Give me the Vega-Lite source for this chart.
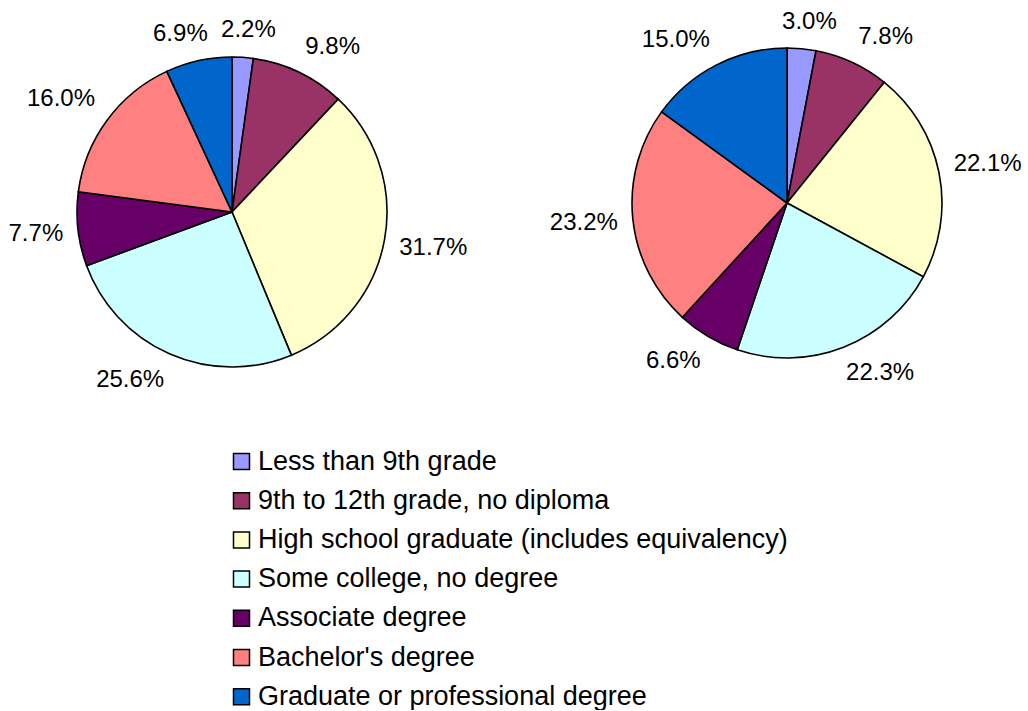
{
  "$schema": "https://vega.github.io/schema/vega-lite/v6.json",
  "padding": 0,
  "bounds": "flush",
  "background": "white",
  "datasets": {
    "edu": [
      {"panel": "A", "idx": 1, "category": "Less than 9th grade", "value": 2.2, "label": "2.2%"},
      {"panel": "A", "idx": 2, "category": "9th to 12th grade, no diploma", "value": 9.8, "label": "9.8%"},
      {"panel": "A", "idx": 3, "category": "High school graduate (includes equivalency)", "value": 31.7, "label": "31.7%"},
      {"panel": "A", "idx": 4, "category": "Some college, no degree", "value": 25.6, "label": "25.6%"},
      {"panel": "A", "idx": 5, "category": "Associate degree", "value": 7.7, "label": "7.7%"},
      {"panel": "A", "idx": 6, "category": "Bachelor's degree", "value": 16.0, "label": "16.0%"},
      {"panel": "A", "idx": 7, "category": "Graduate or professional degree", "value": 6.9, "label": "6.9%"},
      {"panel": "B", "idx": 1, "category": "Less than 9th grade", "value": 3.0, "label": "3.0%"},
      {"panel": "B", "idx": 2, "category": "9th to 12th grade, no diploma", "value": 7.8, "label": "7.8%"},
      {"panel": "B", "idx": 3, "category": "High school graduate (includes equivalency)", "value": 22.1, "label": "22.1%"},
      {"panel": "B", "idx": 4, "category": "Some college, no degree", "value": 22.3, "label": "22.3%"},
      {"panel": "B", "idx": 5, "category": "Associate degree", "value": 6.6, "label": "6.6%"},
      {"panel": "B", "idx": 6, "category": "Bachelor's degree", "value": 23.2, "label": "23.2%"},
      {"panel": "B", "idx": 7, "category": "Graduate or professional degree", "value": 15.0, "label": "15.0%"}
    ]
  },
  "data": {"name": "edu"},
  "config": {
    "view": {"stroke": null},
    "font": "Liberation Sans",
    "concat": {"spacing": 123}
  },
  "hconcat": [
    {
      "width": 464,
      "height": 424,
      "transform": [{"filter": "datum.panel === 'A'"}],
      "layer": [
        {
          "mark": {"type": "arc", "outerRadius": 155, "stroke": "black", "strokeWidth": 1.6},
          "encoding": {
            "theta": {"field": "value", "type": "quantitative", "stack": true},
            "order": {"field": "idx", "type": "quantitative"},
            "color": {
              "field": "category",
              "type": "nominal",
              "scale": {
                "domain": ["Less than 9th grade", "9th to 12th grade, no diploma", "High school graduate (includes equivalency)", "Some college, no degree", "Associate degree", "Bachelor's degree", "Graduate or professional degree"],
                "range": ["#9999FF", "#993366", "#FFFFCC", "#CCFFFF", "#660066", "#FF8080", "#0066CC"]
              },
              "legend": {
                "orient": "none",
                "legendX": 228,
                "legendY": 448,
                "title": null,
                "symbolType": "square",
                "symbolSize": 256,
                "symbolStrokeColor": "black",
                "symbolStrokeWidth": 1.5,
                "labelFontSize": 27,
                "labelColor": "black",
                "labelFont": "Liberation Sans",
                "labelLimit": 700,
                "rowPadding": 11.2,
                "labelOffset": 3
              }
            }
          }
        },
        {
          "mark": {
            "type": "text", "radius": 170, "fontSize": 24, "color": "black", "align": "center", "baseline": "middle",
            "dx": {"expr": "length(datum.label)*6.8*clamp(2.5*sin(PI*(datum.value_start+datum.value_end)/100),-1,1)"},
            "dy": {"expr": "-12*clamp(2.5*cos(PI*(datum.value_start+datum.value_end)/100),-1,1)"}
          },
          "encoding": {
            "theta": {"field": "value", "type": "quantitative", "stack": true},
            "order": {"field": "idx", "type": "quantitative"},
            "text": {"field": "label", "type": "nominal"}
          }
        }
      ]
    },
    {
      "width": 400,
      "height": 406,
      "transform": [{"filter": "datum.panel === 'B'"}],
      "layer": [
        {
          "mark": {"type": "arc", "outerRadius": 155, "stroke": "black", "strokeWidth": 1.6},
          "encoding": {
            "theta": {"field": "value", "type": "quantitative", "stack": true},
            "order": {"field": "idx", "type": "quantitative"},
            "color": {"field": "category", "type": "nominal"}
          }
        },
        {
          "mark": {
            "type": "text", "radius": 170, "fontSize": 24, "color": "black", "align": "center", "baseline": "middle",
            "dx": {"expr": "length(datum.label)*6.8*clamp(2.5*sin(PI*(datum.value_start+datum.value_end)/100),-1,1)"},
            "dy": {"expr": "-12*clamp(2.5*cos(PI*(datum.value_start+datum.value_end)/100),-1,1)"}
          },
          "encoding": {
            "theta": {"field": "value", "type": "quantitative", "stack": true},
            "order": {"field": "idx", "type": "quantitative"},
            "text": {"field": "label", "type": "nominal"}
          }
        }
      ]
    }
  ],
  "resolve": {"scale": {"color": "shared"}, "legend": {"color": "shared"}}
}
